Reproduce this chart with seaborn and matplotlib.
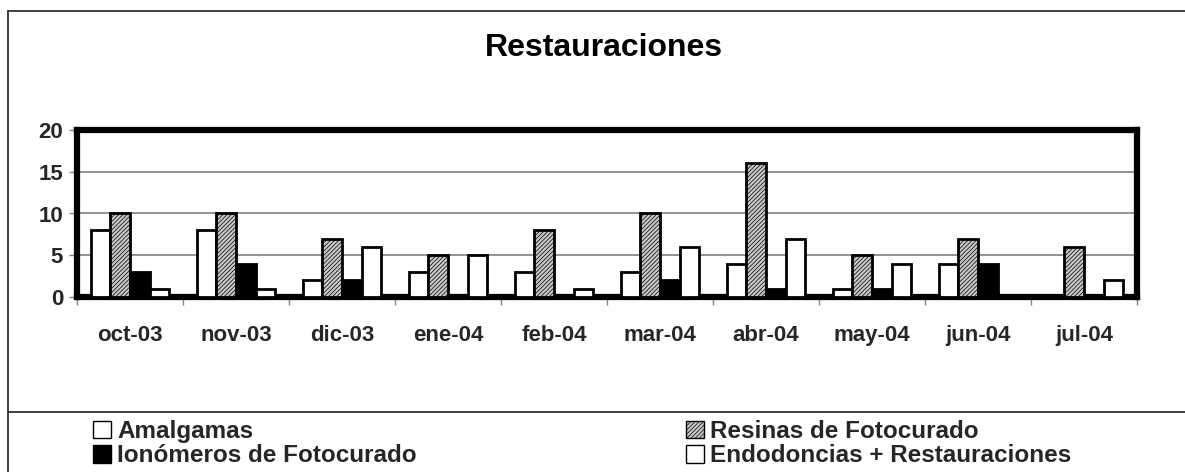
import numpy as np
import pandas as pd
import matplotlib
matplotlib.use("Agg")
import matplotlib.pyplot as plt
import seaborn as sns
from matplotlib.lines import Line2D
from matplotlib.patches import Patch

# datos
meses = ["oct-03", "nov-03", "dic-03", "ene-04", "feb-04",
         "mar-04", "abr-04", "may-04", "jun-04", "jul-04"]
series = ["Amalgamas", "Resinas de Fotocurado",
          "Ionómeros de Fotocurado", "Endodoncias + Restauraciones"]
amalgamas = [8, 8, 2, 3, 3, 3, 4, 1, 4, 0]
resinas = [10, 10, 7, 5, 8, 10, 16, 5, 7, 6]
ionomeros = [3, 4, 2, 0, 0, 2, 1, 1, 4, 0]
endodoncias = [1, 1, 6, 5, 1, 6, 7, 4, 0, 2]

df = pd.DataFrame({
    "mes": meses * 4,
    "serie": np.repeat(series, len(meses)),
    "valor": amalgamas + resinas + ionomeros + endodoncias,
})

sns.set_style("white")
plt.rcParams['font.family'] = ['Liberation Sans', 'DejaVu Sans']
plt.rcParams['font.weight'] = 'bold'
plt.rcParams['hatch.linewidth'] = 0.5

W, H = 1185, 472
fig = plt.figure(figsize=(W / 100, H / 100), dpi=100)
ax = fig.add_axes([77 / W, 1 - 297 / H, 1060 / W, 167 / H])

sns.barplot(data=df, x="mes", y="valor", hue="serie", order=meses,
            hue_order=series, width=0.74, errorbar=None, legend=False, ax=ax)

# estilos por serie
estilos = {
    "Amalgamas": dict(facecolor="white", hatch=None),
    "Resinas de Fotocurado": dict(facecolor="#c8c8c8", hatch="////////"),
    "Ionómeros de Fotocurado": dict(facecolor="black", hatch=None),
    "Endodoncias + Restauraciones": dict(facecolor="white", hatch=None),
}
for cont, s in zip(ax.containers, series):
    for bar in cont:
        bar.set_facecolor(estilos[s]["facecolor"])
        bar.set_hatch(estilos[s]["hatch"])
        bar.set_edgecolor("black")
        bar.set_linewidth(2)
        bar.set_zorder(3)

ax.set_ylim(0, 20)
ax.set_yticks([0, 5, 10, 15, 20])
ax.set_xlim(-0.5, len(meses) - 0.5)
ax.set_xticks(np.arange(-0.5, len(meses), 1), minor=True)
ax.set_xlabel("")
ax.set_ylabel("")

ax.set_axisbelow(True)
ax.yaxis.grid(True, color="#808080", linewidth=1.2)

ax.tick_params(axis="x", which="major", length=0, pad=20, labelsize=16)
ax.tick_params(axis="x", which="minor", length=6, width=1, color="#808080",
               direction="out", bottom=True)
ax.tick_params(axis="y", length=6, width=1, color="#808080", direction="out",
               left=True, pad=4, labelsize=16)
for lab in ax.get_xticklabels() + ax.get_yticklabels():
    lab.set_fontweight("bold")

for sp in ax.spines.values():
    sp.set_visible(True)
    sp.set_color("black")
    sp.set_linewidth(4.5)
    sp.set_capstyle("projecting")
    sp.set_zorder(2.5)

fig.text(604 / W, 1 - 48 / H, "Restauraciones", ha="center", va="center",
         fontsize=23, fontweight="bold", color="black")

# bordes del area del grafico
borde = dict(transform=fig.transFigure, color="#303030", linewidth=1.3)
fig.add_artist(Line2D([8 / W, 8 / W], [0, 1 - 11 / H], **borde))
fig.add_artist(Line2D([8 / W, 1], [1 - 11 / H, 1 - 11 / H], **borde))
fig.add_artist(Line2D([8 / W, 1], [1 - 412 / H, 1 - 412 / H], **borde))

# leyenda
def handle(s):
    return Patch(facecolor=estilos[s]["facecolor"], hatch=estilos[s]["hatch"],
                 edgecolor="black", linewidth=1, label=s)

opts = dict(loc="upper left", frameon=False, borderpad=0, borderaxespad=0,
            handlelength=0.75, handleheight=0.75, handletextpad=0.25,
            labelspacing=0.05, prop={"size": 17.5, "weight": "bold"})
fig.legend(handles=[handle(series[0]), handle(series[2])],
           bbox_to_anchor=(93 / W, 1 - 420 / H), **opts)
fig.legend(handles=[handle(series[1]), handle(series[3])],
           bbox_to_anchor=(686 / W, 1 - 420 / H), **opts)

fig.savefig("out.png", dpi=100)
